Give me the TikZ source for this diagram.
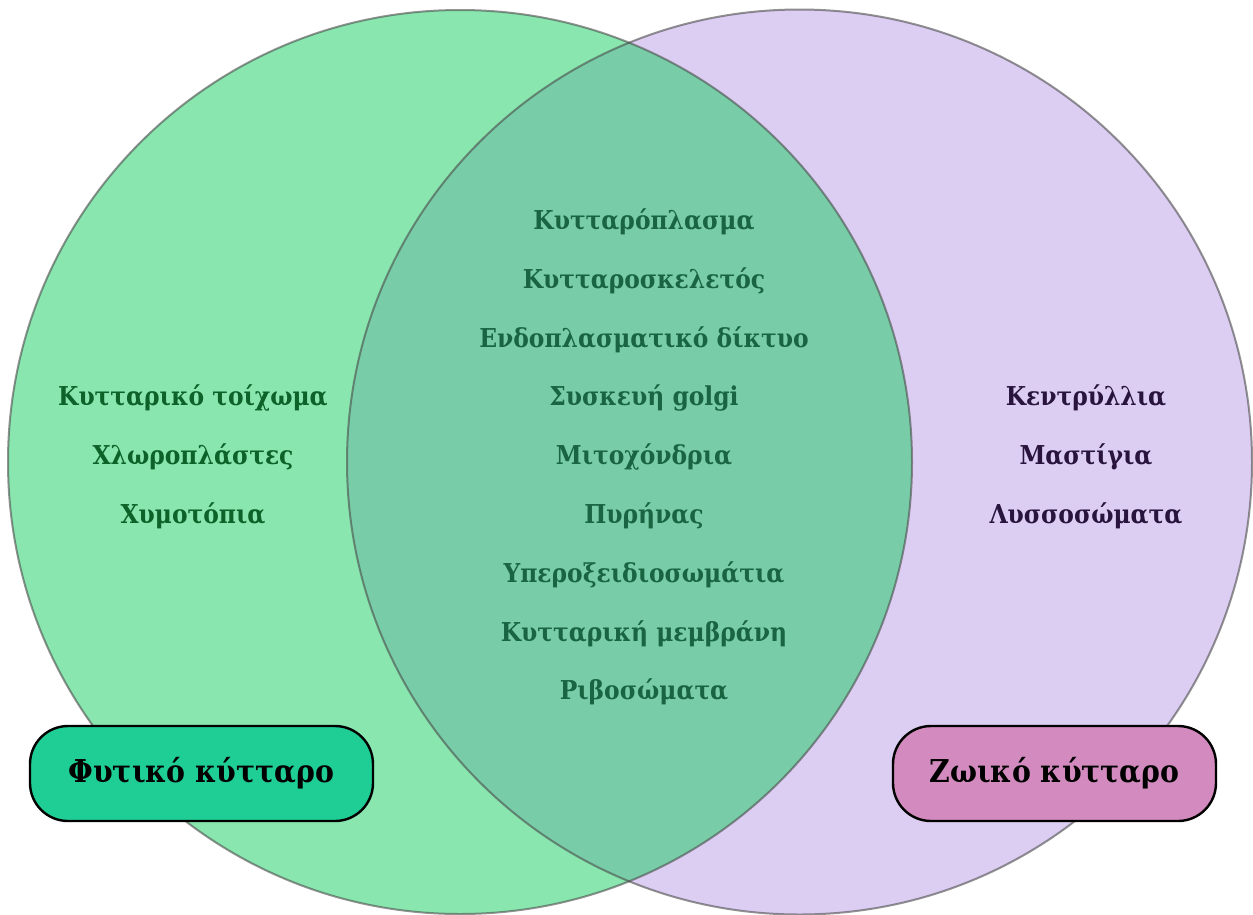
\documentclass[tikz,border=0pt]{standalone}
\usepackage{fontspec}
\setmainfont{DejaVu Serif Condensed}
\definecolor{lavfill}{RGB}{220,206,242}
\definecolor{grnfill}{RGB}{16,204,92}
\definecolor{edgecol}{RGB}{75,75,75}
\definecolor{midtxt}{RGB}{25,100,65}
\definecolor{lefttxt}{RGB}{12,98,40}
\definecolor{righttxt}{RGB}{40,20,60}
\definecolor{plantbox}{RGB}{31,206,149}
\definecolor{animalbox}{RGB}{211,139,191}
\tikzset{
  itemtext/.style={font=\fontsize{26}{30}\selectfont\bfseries, inner sep=0pt, anchor=center},
  labelbox/.style={draw=black, line width=2.4pt, rounded corners=38pt, minimum height=95pt, inner sep=0pt,
    font=\fontsize{31.5}{36}\selectfont\bfseries, text=black},
  circedge/.style={draw=edgecol, draw opacity=0.6, line width=2pt}
}
\begin{document}
\begin{tikzpicture}[x=1pt,y=-1pt]
\useasboundingbox (0,0) rectangle (1253,914);
\fill[white] (0,0) rectangle (1253,914);
% circles
\fill[lavfill] (799.5,462) circle (452.5pt);
\fill[grnfill, fill opacity=0.49] (460,462) circle (452pt);
\draw[circedge] (799.5,462) circle (452.5pt);
\draw[circedge] (460,462) circle (452pt);
% middle texts
\node[itemtext, text=midtxt] (m1) at (644,222) {Κυτταρόπλασμα};
\node[itemtext, text=midtxt] (m2) at (644,281) {Κυτταροσκελετός};
\node[itemtext, text=midtxt] (m3) at (644,340) {Ενδοπλασματικό δίκτυο};
\node[itemtext, text=midtxt] (m4) at (644,398) {Συσκευή golgi};
\node[itemtext, text=midtxt] (m5) at (644,457) {Μιτοχόνδρια};
\node[itemtext, text=midtxt] (m6) at (644,516) {Πυρήνας};
\node[itemtext, text=midtxt] (m7) at (644,575) {Υπεροξειδιοσωμάτια};
\node[itemtext, text=midtxt] (m8) at (644,634) {Κυτταρική μεμβράνη};
\node[itemtext, text=midtxt] (m9) at (644,692) {Ριβοσώματα};
% left texts
\node[itemtext, text=lefttxt] (l1) at (193,398) {Κυτταρικό τοίχωμα};
\node[itemtext, text=lefttxt] (l2) at (193,457) {Χλωροπλάστες};
\node[itemtext, text=lefttxt] (l3) at (193,516) {Χυμοτόπια};
% right texts
\node[itemtext, text=righttxt] (r1) at (1086,398) {Κεντρύλλια};
\node[itemtext, text=righttxt] (r2) at (1086,457) {Μαστίγια};
\node[itemtext, text=righttxt] (r3) at (1086,516) {Λυσσοσώματα};
% label boxes
\node[labelbox, fill=plantbox, minimum width=343pt] (plant) at (201.5,773.5) {Φυτικό κύτταρο};
\node[labelbox, fill=animalbox, minimum width=323pt] (animal) at (1054.5,773.5) {Ζωικό κύτταρο};
\end{tikzpicture}
\end{document}
